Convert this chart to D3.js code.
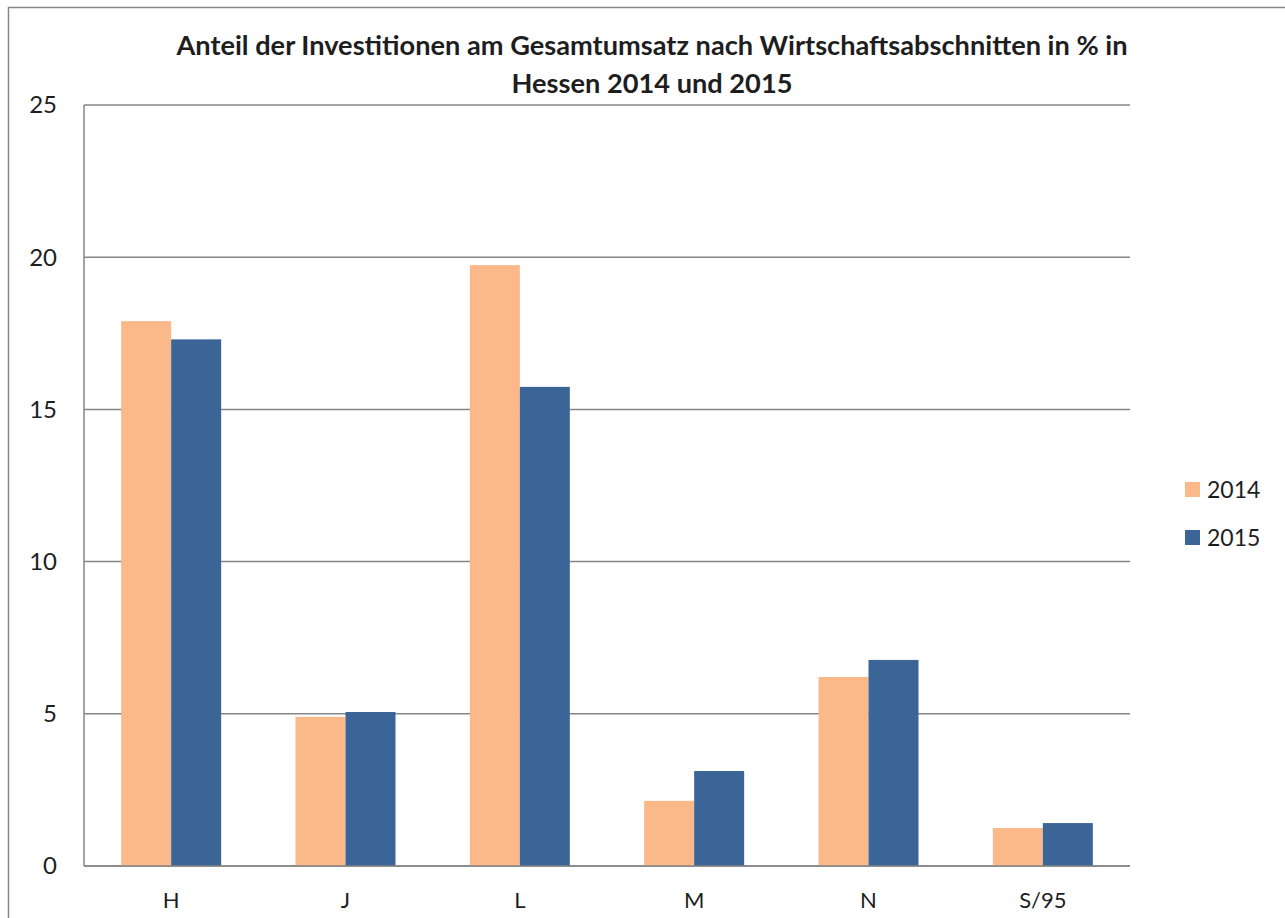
<!DOCTYPE html>
<html>
<head>
<meta charset="utf-8">
<script src="https://cdn.jsdelivr.net/npm/d3@7"></script>
<style>
body{margin:0;background:#fff;}
text{font-family:Lato,"Open Sans",sans-serif;fill:#1e1e1e;}
</style>
</head>
<body>
<script>
// data
var categories = ["H","J","L","M","N","S/95"]
var series = ["2014","2015"]
var values2014 = [17.9, 4.9, 19.74, 2.14, 6.21, 1.25]
var values2015 = [17.3, 5.06, 15.74, 3.12, 6.77, 1.41]
var yTicks = [0,5,10,15,20,25]
var colors = ["#FBB98A","#3B6497"]

var w = 1285, h = 918
var m = {left:84, right:1130, top:105, bottom:866}

var svg = d3.select("body").append("svg")
	.attr("width", w)
	.attr("height", h)

// outer frame
svg.append("rect")
	.attr("x", 8.5).attr("y", 7.5)
	.attr("width", w).attr("height", h)
	.attr("fill", "none")
	.attr("stroke", "#888")
	.attr("stroke-width", 1.5)

var x = d3.scaleBand().domain(categories).range([m.left, m.right]).paddingInner(0).paddingOuter(0)
var x1 = d3.scaleBand().domain(series).range([0, 100])
var y = d3.scaleLinear().domain([0,25]).range([m.bottom, m.top])

// grid lines
svg.selectAll(".grid")
	.data(yTicks)
	.enter()
	.append("line")
	.attr("x1", m.left).attr("x2", m.right)
	.attr("y1", function(d){return y(d)})
	.attr("y2", function(d){return y(d)})
	.attr("stroke", "#868686")
	.attr("stroke-width", 1.5)

// bars
var rows = categories.map(function(c,i){return {cat:c, vals:[values2014[i], values2015[i]]}})
var groups = svg.selectAll(".grp")
	.data(rows)
	.enter()
	.append("g")
	.attr("transform", function(d){return "translate(" + (x(d.cat) + x.bandwidth()/2 - 50) + ",0)"})
groups.selectAll("rect")
	.data(function(d){return d.vals})
	.enter()
	.append("rect")
	.attr("x", function(d,i){return x1(series[i])})
	.attr("width", x1.bandwidth())
	.attr("y", function(d){return y(d)})
	.attr("height", function(d){return y(0) - y(d)})
	.attr("fill", function(d,i){return colors[i]})

// axes lines
svg.append("line")
	.attr("x1", m.left).attr("x2", m.left)
	.attr("y1", m.top).attr("y2", m.bottom)
	.attr("stroke", "#868686").attr("stroke-width", 1.5)
svg.append("line")
	.attr("x1", m.left).attr("x2", m.right)
	.attr("y1", m.bottom).attr("y2", m.bottom)
	.attr("stroke", "#868686").attr("stroke-width", 1.5)

// y labels
svg.selectAll(".ylab")
	.data(yTicks)
	.enter()
	.append("text")
	.attr("x", 57)
	.attr("y", function(d){return y(d)})
	.attr("dy", "0.35em")
	.attr("text-anchor", "end")
	.attr("font-size", 24)
	.text(function(d){return d})

// x labels
svg.selectAll(".xlab")
	.data(categories)
	.enter()
	.append("text")
	.attr("x", function(d){return x(d) + x.bandwidth()/2})
	.attr("y", 908)
	.attr("text-anchor", "middle")
	.attr("font-size", 22)
	.text(function(d){return d})

// title
var title = ["Anteil der Investitionen am Gesamtumsatz nach Wirtschaftsabschnitten in % in", "Hessen 2014 und 2015"]
svg.selectAll(".title")
	.data(title)
	.enter()
	.append("text")
	.attr("x", 652)
	.attr("y", function(d,i){return 55 + i*38})
	.attr("text-anchor", "middle")
	.attr("font-size", 27.2)
	.attr("font-weight", "bold")
	.text(function(d){return d})

// legend
var leg = svg.selectAll(".leg")
	.data(series)
	.enter()
	.append("g")
	.attr("transform", function(d,i){return "translate(1185," + (482 + i*48) + ")"})
leg.append("rect")
	.attr("width", 15).attr("height", 15)
	.attr("fill", function(d,i){return colors[i]})
leg.append("text")
	.attr("x", 22).attr("y", 8)
	.attr("dy", "0.35em")
	.attr("font-size", 23)
	.text(function(d){return d})
</script>
</body>
</html>
